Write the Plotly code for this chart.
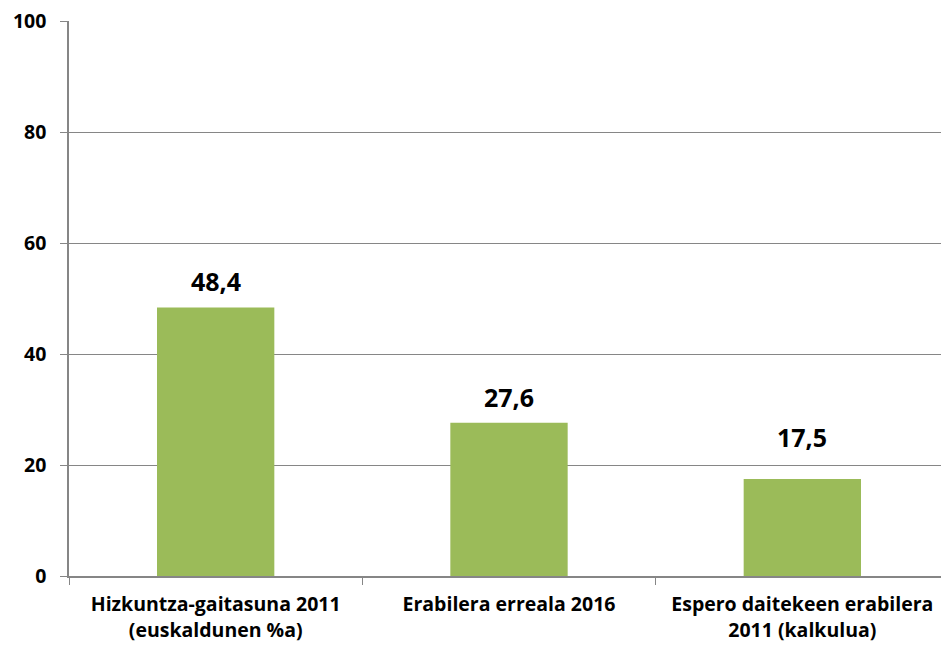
import plotly.graph_objects as go

categories = ["Hizkuntza-gaitasuna 2011<br>(euskaldunen %a)",
              "Erabilera erreala 2016",
              "Espero daitekeen erabilera<br>2011 (kalkulua)"]
values = [48.4, 27.6, 17.5]
value_labels = ["48,4", "27,6", "17,5"]
y_ticks = [0, 20, 40, 60, 80, 100]
label_offsets_px = [20, 20, 36]

FONT = "Open Sans"
fig = go.Figure()
fig.add_trace(go.Bar(x=categories, y=values, marker=dict(color="#9BBB59", line=dict(width=0)),
                     hoverinfo="skip"))
for c, v, t, off in zip(categories, values, value_labels, label_offsets_px):
    fig.add_annotation(x=c, y=v, text=t, showarrow=False, yanchor="bottom", yshift=off - 13,
                       font=dict(family=FONT, size=25, color="black", weight="bold"))

# page body has an 8px default margin, so the figure is sized to fit the window
fig.update_layout(
    width=941, height=639,
    margin=dict(l=61, r=0, t=13, b=71),
    paper_bgcolor="white", plot_bgcolor="white",
    bargap=0.6, showlegend=False,
    font=dict(family=FONT, color="black"),
)
fig.update_xaxes(
    type="category", tickson="boundaries", ticks="outside", ticklen=7, tickcolor="#868686",
    showline=True, linecolor="#868686", linewidth=1.5, showgrid=False, automargin=False,
    tickfont=dict(family=FONT, size=19.5, color="black", weight="bold"),
    ticklabelstandoff=10, ticklabeloverflow="allow",
)
fig.update_yaxes(
    range=[0, 100], tickvals=y_ticks, ticks="outside", ticklen=7, tickcolor="#868686",
    showline=True, linecolor="#868686", linewidth=1.5, automargin=False,
    showgrid=True, gridcolor="#868686", gridwidth=1, zeroline=False,
    tickfont=dict(family=FONT, size=19.5, color="black", weight="bold"),
    ticklabelstandoff=10, ticklabeloverflow="allow",
)
fig.write_html("out.html")
